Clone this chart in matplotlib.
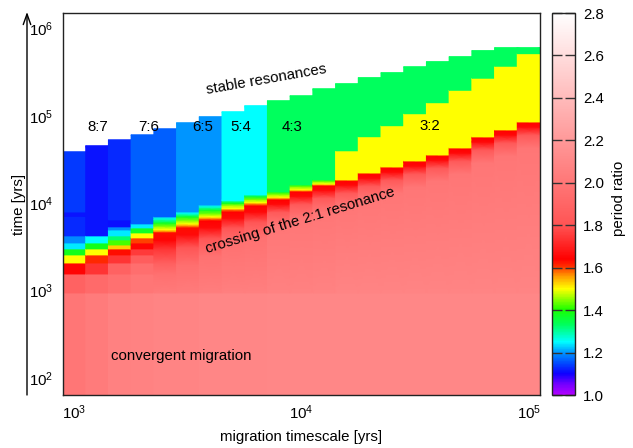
import numpy as np
import matplotlib
matplotlib.use("Agg")
import matplotlib.pyplot as plt
from matplotlib.colors import LinearSegmentedColormap, Normalize
from matplotlib.cm import ScalarMappable
from matplotlib.ticker import NullLocator

FS = 10.8
plt.rcParams['font.family'] = ['Liberation Sans', 'DejaVu Sans']
plt.rcParams['mathtext.default'] = 'regular'
plt.rcParams['font.size'] = FS

# migration timescales of the runs (one column each)
tau = [1000, 1259, 1585, 1995, 2512, 3162, 3981, 5012, 6310, 7943,
       10000, 12589, 15849, 19953, 25119, 31623, 39811, 50119, 63096, 79433, 100000]

# period ratio vs time for each run: (log10 time [yrs], period ratio), bottom to top
profiles = [
    [(1.7, 2.0), (2.974, 2.0), (2.974, 1.88), (3.191, 1.88), (3.191, 1.65), (3.317, 1.65), (3.317, 1.5),
     (3.409, 1.5), (3.409, 1.38), (3.478, 1.38), (3.478, 1.24), (3.546, 1.24), (3.546, 1.19), (3.627, 1.19),
     (3.627, 1.13), (3.85, 1.13), (3.85, 1.115), (3.9, 1.115), (3.9, 1.14), (4.589, 1.14)],
    [(1.7, 2.03), (2.974, 2.03), (2.974, 1.93), (3.191, 1.93), (3.191, 1.74), (3.317, 1.74), (3.317, 1.61),
     (3.409, 1.61), (3.409, 1.5), (3.478, 1.5), (3.478, 1.38), (3.546, 1.38), (3.546, 1.25), (3.627, 1.25),
     (3.627, 1.115), (4.658, 1.115)],
    [(1.7, 2.06), (2.974, 2.06), (2.974, 1.96), (3.191, 1.96), (3.191, 1.88), (3.317, 1.88), (3.317, 1.74),
     (3.409, 1.74), (3.409, 1.63), (3.478, 1.63), (3.478, 1.53), (3.523, 1.53), (3.523, 1.42), (3.581, 1.42),
     (3.581, 1.32), (3.627, 1.32), (3.627, 1.24), (3.695, 1.24), (3.695, 1.19), (3.73, 1.19), (3.73, 1.11),
     (3.81, 1.11), (3.81, 1.13), (4.726, 1.13)],
    [(1.7, 2.07), (2.974, 2.07), (2.974, 2.0), (3.191, 2.0), (3.191, 1.95), (3.317, 1.95), (3.317, 1.85),
     (3.409, 1.85), (3.409, 1.75), (3.478, 1.75), (3.478, 1.65), (3.546, 1.65), (3.546, 1.6), (3.604, 1.6),
     (3.604, 1.5), (3.661, 1.5), (3.661, 1.37), (3.718, 1.37), (3.718, 1.24), (3.764, 1.24), (3.764, 1.165),
     (4.783, 1.165)],
    [(1.7, 2.08), (2.974, 2.08), (2.974, 2.02), (3.19, 1.96), (3.32, 1.86), (3.48, 1.74), (3.58, 1.65),
     (3.665, 1.63), (3.68, 1.56), (3.70, 1.5), (3.74, 1.44), (3.775, 1.37), (3.815, 1.28), (3.844, 1.24),
     (3.844, 1.165), (4.852, 1.165)],
    [(1.7, 2.08), (2.974, 2.08), (2.974, 2.03), (3.3, 1.95), (3.5, 1.8), (3.64, 1.66), (3.72, 1.63),
     (3.74, 1.57), (3.765, 1.5), (3.8, 1.45), (3.845, 1.37), (3.88, 1.27), (3.901, 1.24), (3.901, 1.2),
     (4.921, 1.2)],
    [(1.7, 2.09), (2.974, 2.09), (2.974, 2.04), (3.4, 1.97), (3.6, 1.8), (3.72, 1.66), (3.80, 1.64),
     (3.825, 1.57), (3.845, 1.5), (3.88, 1.44), (3.92, 1.37), (3.955, 1.28), (3.98, 1.24), (3.98, 1.2),
     (4.99, 1.2)],
    [(1.7, 2.09), (2.974, 2.09), (2.974, 2.05), (3.55, 1.97), (3.72, 1.8), (3.83, 1.66), (3.90, 1.64),
     (3.925, 1.58), (3.94, 1.5), (3.975, 1.46), (4.0, 1.38), (4.028, 1.3), (4.028, 1.25), (5.047, 1.25)],
    [(1.7, 2.09), (2.974, 2.09), (2.974, 2.05), (3.62, 1.97), (3.79, 1.8), (3.9, 1.66), (3.97, 1.64),
     (3.99, 1.58), (4.01, 1.5), (4.045, 1.44), (4.075, 1.36), (4.096, 1.3), (4.096, 1.25), (5.116, 1.25)],
    [(1.7, 2.1), (2.974, 2.1), (2.974, 2.06), (3.74, 2.0), (3.9, 1.82), (3.99, 1.66), (4.04, 1.64),
     (4.055, 1.57), (4.07, 1.5), (4.105, 1.44), (4.13, 1.38), (4.13, 1.333), (5.173, 1.333)],
    [(1.7, 2.1), (2.974, 2.1), (2.974, 2.06), (3.83, 2.0), (3.99, 1.82), (4.08, 1.66), (4.13, 1.64),
     (4.145, 1.57), (4.155, 1.5), (4.19, 1.44), (4.211, 1.38), (4.211, 1.333), (5.23, 1.333)],
    [(1.7, 2.1), (2.974, 2.1), (2.974, 2.07), (3.9, 2.0), (4.06, 1.82), (4.15, 1.66), (4.2, 1.64),
     (4.212, 1.57), (4.222, 1.5), (4.25, 1.44), (4.268, 1.38), (4.268, 1.333), (5.31, 1.333)],
    [(1.7, 2.1), (2.974, 2.1), (2.974, 2.08), (3.968, 2.0), (4.118, 1.82), (4.208, 1.66), (4.253, 1.64),
     (4.268, 1.57), (4.268, 1.5), (4.6, 1.5), (4.6, 1.333), (5.368, 1.333)],
    [(1.7, 2.1), (2.974, 2.1), (2.974, 2.08), (4.048, 2.0), (4.198, 1.82), (4.288, 1.66), (4.333, 1.64),
     (4.348, 1.57), (4.348, 1.5), (4.761, 1.5), (4.761, 1.333), (5.437, 1.333)],
    [(1.7, 2.1), (2.974, 2.1), (2.974, 2.08), (4.117, 2.0), (4.267, 1.82), (4.357, 1.66), (4.402, 1.64),
     (4.417, 1.57), (4.417, 1.5), (4.887, 1.5), (4.887, 1.333), (5.494, 1.333)],
    [(1.7, 2.1), (2.974, 2.1), (2.974, 2.08), (4.186, 2.0), (4.336, 1.82), (4.426, 1.66), (4.471, 1.64),
     (4.486, 1.57), (4.486, 1.5), (5.024, 1.5), (5.024, 1.333), (5.562, 1.333)],
    [(1.7, 2.1), (2.974, 2.1), (2.974, 2.08), (4.254, 2.0), (4.404, 1.82), (4.494, 1.66), (4.539, 1.64),
     (4.554, 1.57), (4.554, 1.5), (5.150, 1.5), (5.150, 1.333), (5.620, 1.333)],
    [(1.7, 2.1), (2.974, 2.1), (2.974, 2.08), (4.335, 2.0), (4.485, 1.82), (4.575, 1.66), (4.620, 1.64),
     (4.635, 1.57), (4.635, 1.5), (5.292, 1.5), (5.292, 1.333), (5.677, 1.333)],
    [(1.7, 2.1), (2.974, 2.1), (2.974, 2.08), (4.461, 2.0), (4.611, 1.82), (4.701, 1.66), (4.746, 1.64),
     (4.761, 1.57), (4.761, 1.5), (5.43, 1.5), (5.43, 1.333), (5.746, 1.333)],
    [(1.7, 2.1), (2.974, 2.1), (2.974, 2.08), (4.541, 2.0), (4.691, 1.82), (4.781, 1.66), (4.826, 1.64),
     (4.841, 1.57), (4.841, 1.5), (5.567, 1.5), (5.567, 1.333), (5.78, 1.333)],
    [(1.7, 2.1), (2.974, 2.1), (2.974, 2.08), (4.632, 2.0), (4.782, 1.82), (4.872, 1.66), (4.917, 1.64),
     (4.932, 1.57), (4.932, 1.5), (5.711, 1.5), (5.711, 1.333), (5.78, 1.333)],
]

res_labels = ["8:7", "7:6", "6:5", "5:4", "4:3", "3:2"]
res_label_x = [1269, 2123, 3664, 5380, 9100, 36600]
res_label_t = [7.5e4, 7.5e4, 7.5e4, 7.5e4, 7.5e4, 7.7e4]

cbar_ticks = [1.0, 1.2, 1.4, 1.6, 1.8, 2.0, 2.2, 2.4, 2.6, 2.8]

# palette
pal_vals = [1.0, 1.05, 1.10, 1.15, 1.20, 1.25, 1.333, 1.40, 1.50, 1.56, 1.61, 1.64, 1.80, 2.80]
pal_cols = [(0.70, 0.0, 1.0), (0.45, 0.0, 1.0), (0.05, 0.0, 1.0), (0.0, 0.30, 1.0), (0.0, 0.60, 1.0),
            (0.0, 1.0, 1.0), (0.0, 1.0, 0.35), (0.1, 1.0, 0.0), (1.0, 1.0, 0.0), (1.0, 0.60, 0.0),
            (1.0, 0.15, 0.0), (1.0, 0.0, 0.0), (1.0, 0.33, 0.33), (1.0, 1.0, 1.0)]
vmin, vmax = 1.0, 2.8
cmap = LinearSegmentedColormap.from_list(
    "pr", [((v - vmin) / (vmax - vmin), c) for v, c in zip(pal_vals, pal_cols)], N=512)
norm = Normalize(vmin=vmin, vmax=vmax)

W, H = 633, 448
fig = plt.figure(figsize=(W / 100, H / 100), dpi=100)
ax = fig.add_axes([63 / W, 53 / H, 477 / W, 382 / H])

tau_a = np.array(tau, dtype=float)
mids = np.sqrt(tau_a[:-1] * tau_a[1:])
x_edges = np.concatenate([[tau_a[0] ** 2 / mids[0]], mids, [tau_a[-1] ** 2 / mids[-1]]])

for i, prof in enumerate(profiles):
    lt = np.array([k[0] for k in prof])
    pr = np.array([k[1] for k in prof])
    t = 10 ** lt
    X = np.column_stack([np.full_like(t, x_edges[i]), np.full_like(t, x_edges[i + 1])])
    Y = np.column_stack([t, t])
    C = np.column_stack([pr, pr])
    ax.pcolormesh(X, Y, C, shading='gouraud', cmap=cmap, norm=norm, antialiased=False)

ax.set_xscale('log')
ax.set_yscale('log')
ax.set_xlim(x_edges[0], x_edges[-1])
ax.set_ylim(64, 1.5e6)
ax.set_xticks([1e3, 1e4, 1e5])
ax.set_yticks([1e2, 1e3, 1e4, 1e5, 1e6])
ax.xaxis.set_minor_locator(NullLocator())
ax.yaxis.set_minor_locator(NullLocator())
ax.tick_params(axis='x', length=0, pad=6, labelsize=FS)
ax.tick_params(axis='y', length=0, pad=7, labelsize=FS)
for s in ax.spines.values():
    s.set_linewidth(1.0)
    s.set_color('#222222')

for lab, x, t in zip(res_labels, res_label_x, res_label_t):
    ax.text(x, t, lab, ha='center', va='center', fontsize=FS)
ax.text(6980, 2.6e5, "stable resonances", ha='center', va='center', rotation=10,
        rotation_mode='anchor', fontsize=FS)
ax.text(9900, 6300, "crossing of the 2:1 resonance", ha='center', va='center', rotation=17,
        rotation_mode='anchor', fontsize=FS)
ax.text(2965, 180, "convergent migration", ha='center', va='center', fontsize=FS)

# colour bar
cax = fig.add_axes([552 / W, 53 / H, 23 / W, 382 / H])
cb = fig.colorbar(ScalarMappable(norm=norm, cmap=cmap), cax=cax, ticks=cbar_ticks)
cb.ax.set_yticklabels(["%.1f" % v for v in cbar_ticks])
cb.ax.tick_params(direction='in', left=True, right=True, length=7, width=1,
                  color='#333333', labelsize=FS, pad=6)
cb.outline.set_linewidth(1.0)
cb.outline.set_edgecolor('#222222')

# y axis arrow and labels
ax_arrow = fig.add_axes([0, 0, 1, 1], facecolor='none')
ax_arrow.set_axis_off()
ax_arrow.annotate('', xy=(27 / W, 1 - 12 / H), xytext=(27 / W, 53 / H),
                  xycoords='axes fraction', textcoords='axes fraction',
                  arrowprops=dict(arrowstyle='->,head_length=0.7,head_width=0.25', lw=1.0,
                                  color='black', shrinkA=0, shrinkB=0))
fig.text(19 / W, 1 - 204 / H, "time [yrs]", rotation=90, ha='center', va='center', fontsize=FS)
fig.text(301 / W, 1 - 437 / H, "migration timescale [yrs]", ha='center', va='center', fontsize=FS)
fig.text(619 / W, 1 - 198 / H, "period ratio", rotation=90, ha='center', va='center', fontsize=FS)

fig.savefig("out.png", dpi=100)
